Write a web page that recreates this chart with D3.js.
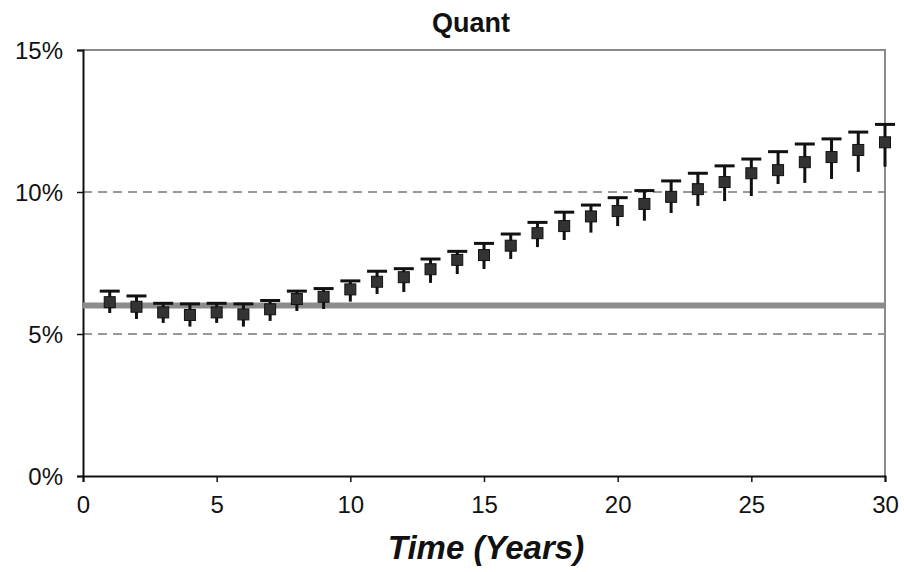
<!DOCTYPE html>
<html>
<head>
<meta charset="utf-8">
<script src="https://cdn.jsdelivr.net/npm/d3@7"></script>
<style>
  body { margin: 0; background: #fff; }
  svg { display: block; font-family: "Liberation Sans", Arial, sans-serif; }
</style>
</head>
<body>
<div id="chart"></div>
<script>
// years 1..30, mean estimate with upper / lower error ends (in %)
const years = d3.range(1, 31);
const means = [6.12, 5.96, 5.76, 5.67, 5.76, 5.69, 5.87, 6.23, 6.31, 6.57,
               6.84, 7.00, 7.28, 7.61, 7.78, 8.11, 8.55, 8.80, 9.14, 9.33,
               9.58, 9.83, 10.10, 10.35, 10.66, 10.77, 11.05, 11.23, 11.48, 11.75];
const upper = [6.51, 6.34, 6.08, 6.06, 6.08, 6.06, 6.18, 6.51, 6.60, 6.87,
               7.21, 7.30, 7.64, 7.91, 8.19, 8.52, 8.93, 9.29, 9.54, 9.80,
               10.05, 10.39, 10.66, 10.92, 11.16, 11.42, 11.69, 11.87, 12.11, 12.38];
const lower = [5.74, 5.53, 5.39, 5.26, 5.39, 5.26, 5.46, 5.81, 5.88, 6.14,
               6.41, 6.48, 6.80, 7.11, 7.29, 7.64, 8.06, 8.31, 8.57, 8.80,
               8.99, 9.26, 9.51, 9.68, 9.86, 10.28, 10.32, 10.46, 10.71, 10.89];
const baseline = 6;
const xTicks = [0, 5, 10, 15, 20, 25, 30];
const yTicks = [0, 5, 10, 15];
const gridLines = [5, 10];

const W = 904, H = 572;
const margin = {top: 50, right: 19, bottom: 96, left: 83};
const w = W - margin.left - margin.right;
const h = H - margin.top - margin.bottom;

const svg = d3.select("#chart").append("svg")
    .attr("width", W)
    .attr("height", H);

const g = svg.append("g")
    .attr("transform", "translate(" + margin.left + "," + margin.top + ")");

const x = d3.scaleLinear().domain([0, 30]).range([0, w]);
const y = d3.scaleLinear().domain([0, 15]).range([h, 0]);

// dashed gridlines
g.selectAll("line.grid")
    .data(gridLines)
    .enter().append("line")
    .attr("class", "grid")
    .attr("x1", 0).attr("x2", w)
    .attr("y1", d => y(d)).attr("y2", d => y(d))
    .attr("stroke", "#333")
    .attr("stroke-width", 1)
    .attr("stroke-dasharray", "9,6");

// top and right border
g.append("path")
    .attr("d", "M0,0H" + w + "V" + h)
    .attr("fill", "none")
    .attr("stroke", "#8a8a8a")
    .attr("stroke-width", 2);

// axes
const xAxis = g.append("g")
    .attr("transform", "translate(0," + h + ")")
    .call(d3.axisBottom(x).tickValues(xTicks).tickSize(6).tickPadding(14));
const yAxis = g.append("g")
    .call(d3.axisLeft(y).tickValues(yTicks).tickSize(6).tickPadding(14)
        .tickFormat(d => d + "%"));

[xAxis, yAxis].forEach(a => {
    a.select(".domain").attr("stroke", "#111").attr("stroke-width", 2);
    a.selectAll(".tick line").attr("stroke", "#111").attr("stroke-width", 1.5);
    a.selectAll(".tick text")
        .attr("fill", "#111")
        .style("font-size", "24px")
        .style("font-family", "'Liberation Sans', Arial, sans-serif");
});
yAxis.selectAll(".tick text").attr("dy", "0.36em");

// 6% reference line
g.append("line")
    .attr("x1", 0).attr("x2", w)
    .attr("y1", y(baseline)).attr("y2", y(baseline))
    .attr("stroke", "#8c8c8c")
    .attr("stroke-width", 6);

// error bars and points
const pts = years.map((yr, i) => ({yr: yr, m: means[i], hi: upper[i], lo: lower[i]}));

const pt = g.selectAll("g.pt")
    .data(pts)
    .enter().append("g")
    .attr("class", "pt");

pt.append("line")
    .attr("x1", d => x(d.yr)).attr("x2", d => x(d.yr))
    .attr("y1", d => y(d.hi)).attr("y2", d => y(d.lo))
    .attr("stroke", "#111")
    .attr("stroke-width", 3);

pt.append("line")
    .attr("x1", d => x(d.yr) - 10).attr("x2", d => x(d.yr) + 10)
    .attr("y1", d => y(d.hi)).attr("y2", d => y(d.hi))
    .attr("stroke", "#111")
    .attr("stroke-width", 3);

pt.append("rect")
    .attr("x", d => x(d.yr) - 5.5)
    .attr("y", d => y(d.m) - 5.5)
    .attr("width", 11)
    .attr("height", 11)
    .attr("fill", "#333")
    .attr("stroke", "#111")
    .attr("stroke-width", 1);

// title and axis label
svg.append("text")
    .attr("x", 471)
    .attr("y", 32)
    .attr("text-anchor", "middle")
    .style("font-size", "27px")
    .style("font-weight", "bold")
    .attr("fill", "#111")
    .text("Quant");

svg.append("text")
    .attr("x", 486)
    .attr("y", 559)
    .attr("text-anchor", "middle")
    .style("font-size", "33px")
    .style("font-weight", "bold")
    .style("font-style", "italic")
    .attr("fill", "#111")
    .text("Time (Years)");
</script>
</body>
</html>
